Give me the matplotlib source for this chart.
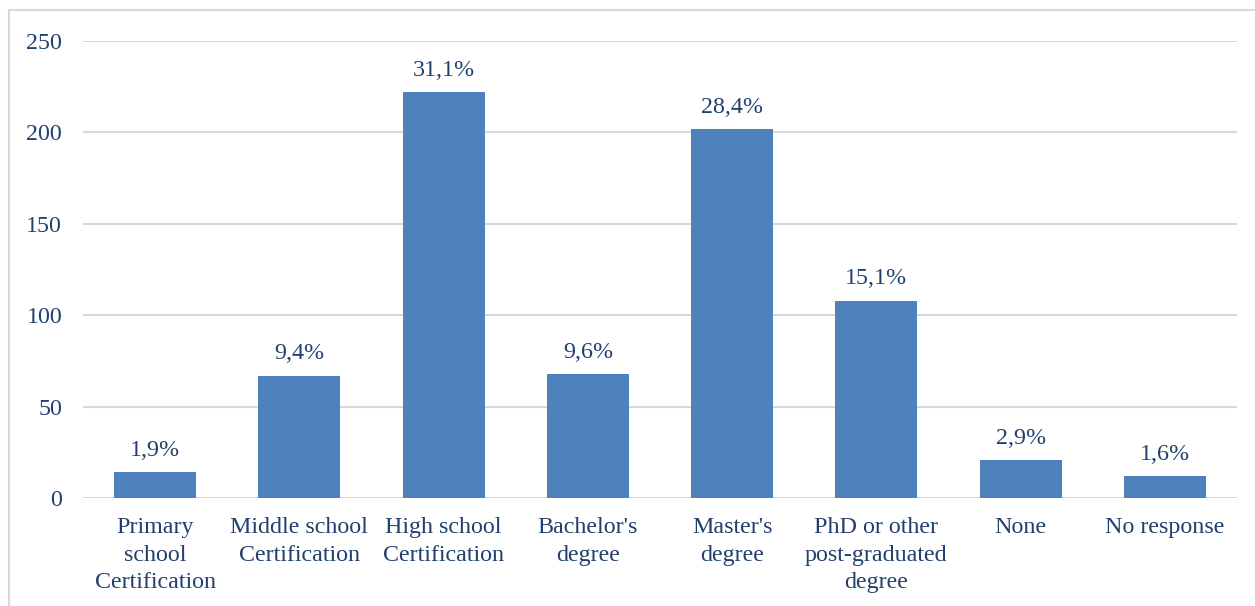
import matplotlib

matplotlib.use("Agg")
import matplotlib.pyplot as plt
import numpy as np
from matplotlib.patches import Rectangle

categories = [
    "Primary\nschool\nCertification",
    "Middle school\nCertification",
    "High school\nCertification",
    "Bachelor's\ndegree",
    "Master's\ndegree",
    "PhD or other\npost-graduated\ndegree",
    "None",
    "No response",
]
counts = [14, 67, 222, 68, 202, 108, 21, 12]
pct_labels = ["1,9%", "9,4%", "31,1%", "9,6%", "28,4%", "15,1%", "2,9%", "1,6%"]
yticks = [0, 50, 100, 150, 200, 250]

BAR = "#4F81BD"
TEXT = "#22406E"
GRID = "#D9D9D9"
FS = 17.3

plt.rcParams["font.family"] = ["Liberation Serif", "DejaVu Serif"]

W, H = 1255, 606
fig = plt.figure(figsize=(W / 100, H / 100), dpi=100)
ax = fig.add_axes([83 / W, 1 - 498 / H, (1237 - 83) / W, (498 - 41) / H])

# light frame around the chart area
fig.patches.append(Rectangle((9 / W, -0.1), 1.2, 1 - 10 / H + 0.1, transform=fig.transFigure,
                             fill=False, edgecolor="#D9D9D9", linewidth=1.5))

x = np.arange(len(categories))
ax.bar(x, counts, width=0.57, color=BAR, zorder=3)
for xi, c, lab in zip(x, counts, pct_labels):
    ax.annotate(lab, (xi, c), xytext=(0, 8), textcoords="offset points",
                ha="center", va="bottom", fontsize=FS, color=TEXT)

ax.set_xlim(-0.5, len(categories) - 0.5)
ax.set_ylim(0, 250)
ax.set_yticks(yticks)
ax.set_yticklabels([str(v) for v in yticks], fontsize=FS, color=TEXT)
ax.set_xticks(x)
ax.set_xticklabels(categories, fontsize=FS, color=TEXT, linespacing=1.38)
ax.tick_params(length=0)
ax.tick_params(axis="y", pad=15)
ax.tick_params(axis="x", pad=14)
ax.grid(axis="y", color=GRID, linewidth=1.5, zorder=0)
for s in ax.spines.values():
    s.set_visible(False)
ax.set_axisbelow(True)

fig.savefig("out.png", dpi=100)
